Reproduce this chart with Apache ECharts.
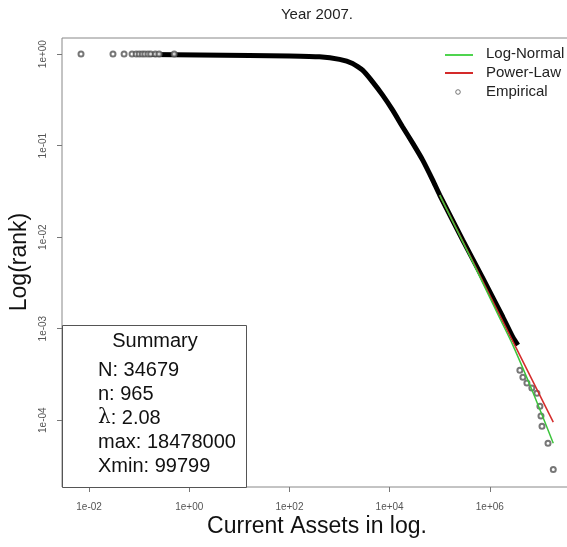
<!DOCTYPE html>
<html>
<head>
<meta charset="utf-8">
<script src="https://cdn.jsdelivr.net/npm/echarts@6/dist/echarts.min.js"></script>
<style>
  html, body { margin: 0; padding: 0; background: #fff; overflow: hidden; }
  /* plot box runs past the right edge of the window, as in the reference */
  #chart { width: 580px; height: 547px; }
</style>
</head>
<body>
<div id="chart"></div>
<script>
// tick positions (log axes)
var xTicks = [1e-2, 1e0, 1e2, 1e4, 1e6];
var yTicks = [1e-4, 1e-3, 1e-2, 1e-1, 1e0];

// empirical ccdf, the dense part that shows as a thick black band
var empiricalBand = [
  [0.158, 0.99], [1.58, 0.978], [15.8, 0.967], [100, 0.955], [398, 0.934],
  [1000, 0.875], [1820, 0.791], [2884, 0.668], [4571, 0.498], [7244, 0.356],
  [11480, 0.244], [18200, 0.160], [28840, 0.1065], [45700, 0.0695],
  [72440, 0.042], [100000, 0.0288], [288000, 0.00927], [724000, 0.00356],
  [1820000, 0.00134], [2880000, 0.000807], [3630000, 0.00066]
];
// empirical points that stand apart
var empiricalHead = [
  [0.0069, 1], [0.030, 1], [0.050, 1], [0.072, 1], [0.087, 1], [0.10, 1],
  [0.115, 1], [0.13, 1], [0.15, 1], [0.17, 1], [0.21, 1], [0.25, 1], [0.5, 1]
];
var empiricalTail = [
  [3980000, 0.000352], [4570000, 0.000295], [5500000, 0.000254],
  [6900000, 0.000224], [8700000, 0.000197], [10000000, 0.000142],
  [10500000, 0.000111], [11000000, 0.000086], [14500000, 0.000056],
  [18478000, 0.0000288]
];
// fitted tails from Xmin
var logNormalFit = [
  [99799, 0.0288], [398000, 0.0062], [1580000, 0.0013],
  [2880000, 0.00066], [7240000, 0.000202], [18478000, 0.000056]
];
var powerLawFit = [[99799, 0.0288], [18478000, 0.000095]];

var summaryLines = ['N: 34679', 'n: 965', '{l|λ}: 2.08', 'max: 18478000', 'Xmin: 99799'];

var FONT = "'Liberation Sans', Arial, sans-serif";

function sci(v) {
  var e = Math.round(Math.log10(v));
  var a = Math.abs(e);
  return '1e' + (e < 0 ? '-' : '+') + (a < 10 ? '0' : '') + a;
}

var chart = echarts.init(document.getElementById('chart'));

var graphics = [
  { type: 'text', x: 317, y: 15,
    style: { text: 'Year 2007.', font: '15px ' + FONT, fill: '#222',
             align: 'center', verticalAlign: 'middle' } },
  { type: 'text', x: 317, y: 527,
    style: { text: 'Current Assets in log.', font: '23px ' + FONT, fill: '#111',
             align: 'center', verticalAlign: 'middle' } },
  { type: 'text', x: 20, y: 262, rotation: Math.PI / 2,
    style: { text: 'Log(rank)', font: '23px ' + FONT, fill: '#111',
             align: 'center', verticalAlign: 'middle' } },
  // legend
  { type: 'line', shape: { x1: 445, y1: 55, x2: 473, y2: 55 },
    style: { stroke: '#4fd44f', lineWidth: 2 } },
  { type: 'line', shape: { x1: 445, y1: 73, x2: 473, y2: 73 },
    style: { stroke: '#d42a2a', lineWidth: 2 } },
  { type: 'circle', shape: { cx: 458, cy: 92, r: 2.3 },
    style: { fill: 'none', stroke: '#555', lineWidth: 0.8 } },
  { type: 'text', x: 486, y: 54,
    style: { text: 'Log-Normal', font: '15px ' + FONT, fill: '#222', verticalAlign: 'middle' } },
  { type: 'text', x: 486, y: 73,
    style: { text: 'Power-Law', font: '15px ' + FONT, fill: '#222', verticalAlign: 'middle' } },
  { type: 'text', x: 486, y: 92,
    style: { text: 'Empirical', font: '15px ' + FONT, fill: '#222', verticalAlign: 'middle' } },
  // summary box
  { type: 'rect', shape: { x: 62.5, y: 325.5, width: 184, height: 162 },
    style: { fill: '#fff', stroke: '#555', lineWidth: 1 }, z: 10 },
  { type: 'text', x: 155, y: 341, z: 11,
    style: { text: 'Summary', font: '20px ' + FONT, fill: '#111',
             align: 'center', verticalAlign: 'middle' } }
];
var lineY = [370, 394, 418, 442, 466];
summaryLines.forEach(function (s, i) {
  graphics.push({
    type: 'text', x: 98, y: lineY[i], z: 11,
    style: {
      text: s, font: '20px ' + FONT, fill: '#111', verticalAlign: 'middle',
      rich: { l: { font: '20px DejaVu Serif', fill: '#111' } }
    }
  });
});

chart.setOption({
  animation: false,
  grid: {
    left: 62, top: 38, right: 8, bottom: 60,
    show: true, borderColor: '#888', borderWidth: 1
  },
  xAxis: {
    type: 'log', logBase: 10,
    min: 0.00288, max: 4.37e7,
    axisLine: { show: false },
    splitLine: { show: false },
    axisTick: { show: true, length: 5, customValues: xTicks, lineStyle: { color: '#777' } },
    axisLabel: { customValues: xTicks, formatter: sci, fontSize: 10, color: '#555',
                 fontFamily: FONT, margin: 15 }
  },
  yAxis: {
    type: 'log', logBase: 10,
    min: 1.86e-5, max: 1.5,
    axisLine: { show: false },
    splitLine: { show: false },
    axisTick: { show: true, length: 5, customValues: yTicks, lineStyle: { color: '#777' } },
    axisLabel: { customValues: yTicks, formatter: sci, fontSize: 10, color: '#555',
                 fontFamily: FONT, rotate: 90, margin: 14 }
  },
  series: [
    {
      name: 'Empirical band', type: 'line', data: empiricalBand,
      showSymbol: false, smooth: 0.15,
      lineStyle: { color: '#000', width: 5 }, z: 2
    },
    {
      name: 'Empirical', type: 'scatter', data: empiricalHead.concat(empiricalTail),
      symbol: 'emptyCircle', symbolSize: 5,
      itemStyle: { color: '#555', borderWidth: 0.8 }, z: 3
    },
    {
      name: 'Power-Law', type: 'line', data: powerLawFit, showSymbol: false,
      lineStyle: { color: '#d42a2a', width: 1.5 }, z: 4
    },
    {
      name: 'Log-Normal', type: 'line', data: logNormalFit, showSymbol: false, smooth: 0.2,
      lineStyle: { color: '#3cc43c', width: 1.5 }, z: 5
    }
  ],
  graphic: graphics
});
</script>
</body>
</html>
